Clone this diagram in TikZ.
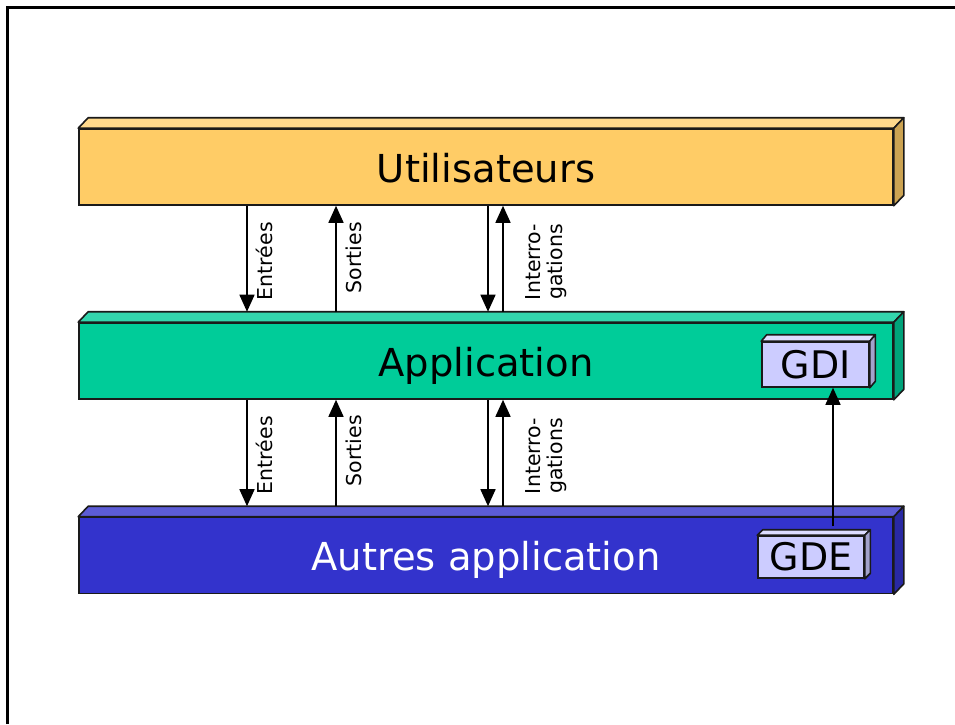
\documentclass[tikz,border=0pt]{standalone}
\usepackage{fontspec}
\setmainfont{DejaVu Sans}
\usetikzlibrary{arrows.meta}

\definecolor{uFront}{HTML}{FFCC66}
\definecolor{uTop}{HTML}{FFD98C}
\definecolor{uSide}{HTML}{CCA352}
\definecolor{aFront}{HTML}{00CC99}
\definecolor{aTop}{HTML}{33D6AD}
\definecolor{aSide}{HTML}{00A37A}
\definecolor{oFront}{HTML}{3333CC}
\definecolor{oTop}{HTML}{5C5CD6}
\definecolor{oSide}{HTML}{2929A3}
\definecolor{gFront}{HTML}{CCCCFF}
\definecolor{gTop}{HTML}{DDDDFF}
\definecolor{gSide}{HTML}{A3A3CC}
\definecolor{edge}{HTML}{1A1A1A}

% top and right faces of a slab whose front face is the node #1
% #2,#3: depth offset; #4: top colour; #5: side colour
\newcommand{\slabfaces}[5]{%
  \filldraw[fill=#4,draw=edge,line width=1.6pt,line join=round]
    (#1.north west) -- ++(#2,#3) -- ([shift={(#2,#3)}]#1.north east)
    -- (#1.north east) -- cycle;
  \filldraw[fill=#5,draw=edge,line width=1.6pt,line join=round]
    (#1.north east) -- ([shift={(#2,#3)}]#1.north east)
    -- ([shift={(#2,#3)}]#1.south east) -- (#1.south east) -- cycle;
}

\begin{document}
\begin{tikzpicture}[x=1pt,y=-1pt,
  slab/.style={draw=edge,line width=1.6pt,inner sep=0pt,
    minimum width=814pt,minimum height=76pt,
    text height=34pt,text depth=4pt,
    font=\fontsize{38.5}{44}\selectfont},
  tag/.style={draw=edge,line width=1.6pt,inner sep=0pt,
    fill=gFront,text height=30pt,text depth=3pt,
    font=\fontsize{38}{42}\selectfont},
  lbl/.style={rotate=90,inner sep=0pt,font=\fontsize{20.5}{22.5}\selectfont},
  arr/.style={-{Triangle[width=15pt,length=17pt]},line width=1.6pt}]

\useasboundingbox (0,0) rectangle (955,724);
\fill[white] (0,0) rectangle (955,724);

% slide frame
\draw[line width=3pt] (7,724) -- (7,7) -- (955,7);

% the three layers
\node[slab,fill=uFront] (U) at (486,167) {Utilisateurs};
\slabfaces{U}{10}{-10.5}{uTop}{uSide}
\node[slab,fill=aFront] (A) at (486,361) {Application};
\slabfaces{A}{10}{-10.5}{aTop}{aSide}
\node[slab,fill=oFront,text=white] (O) at (486,555.5) {Autres application};
\slabfaces{O}{10}{-10.5}{oTop}{oSide}

% back edges of the top faces
\coordinate (Aback) at ([yshift=10.5pt]A.north);
\coordinate (Oback) at ([yshift=10.5pt]O.north);

% GDI and GDE blocks
\node[tag,minimum width=107pt,minimum height=45pt] (G) at (815.5,364.5) {GDI};
\slabfaces{G}{5.5}{-6.5}{gTop}{gSide}
\node[tag,minimum width=106pt,minimum height=42pt] (E) at (811,557) {GDE};
\slabfaces{E}{5.5}{-5.5}{gTop}{gSide}

% exchanges between users and application
\draw[arr] ([xshift=-239pt]U.south) -- ([xshift=-239pt]Aback);
\draw[arr] ([xshift=-150pt]Aback) -- ([xshift=-150pt]U.south);
\draw[arr] ([xshift=2pt]U.south) -- ([xshift=2pt]Aback);
\draw[arr] ([xshift=17pt]Aback) -- ([xshift=17pt]U.south);
\node[lbl,anchor=base east] (l1) at (272,222) {Entrées};
\node[lbl,anchor=base east] (l2) at (361,222) {Sorties};
\node[lbl,align=center] (l3) at (546,262) {Interro-\\gations};

% exchanges between application and other applications
\draw[arr] ([xshift=-239pt]A.south) -- ([xshift=-239pt]Oback);
\draw[arr] ([xshift=-150pt]Oback) -- ([xshift=-150pt]A.south);
\draw[arr] ([xshift=2pt]A.south) -- ([xshift=2pt]Oback);
\draw[arr] ([xshift=17pt]Oback) -- ([xshift=17pt]A.south);
\node[lbl,anchor=base east] (l4) at (272,416) {Entrées};
\node[lbl,anchor=base east] (l5) at (361,415) {Sorties};
\node[lbl,align=center] (l6) at (546,456) {Interro-\\gations};

% GDE to GDI
\draw[arr] ([xshift=22pt,yshift=9pt]E.north) -- ([xshift=17.5pt]G.south);

\end{tikzpicture}
\end{document}
